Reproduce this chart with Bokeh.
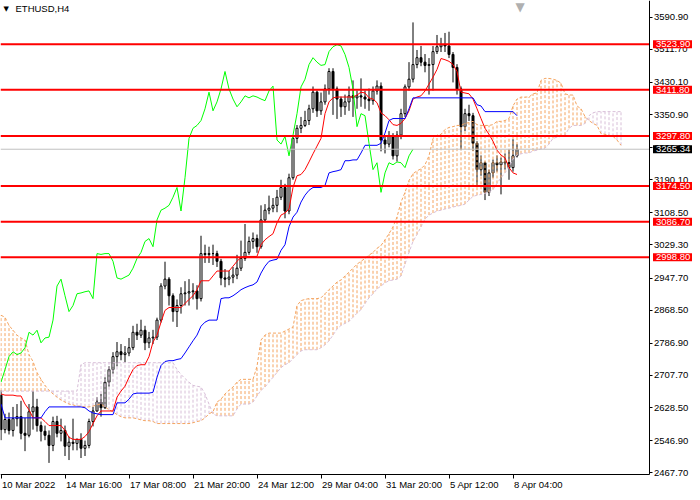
from bokeh.plotting import figure
from bokeh.models import Range1d, FixedTicker, PrintfTickFormatter, Label
from bokeh.embed import file_html
from bokeh.resources import INLINE

# ---------------- data (ETHUSD, H4) ----------------
open_ = [2659, 2574, 2599, 2572, 2601, 2606, 2565, 2560, 2618, 2630, 2584, 2570, 2560, 2535, 2594, 2565, 2572, 2533, 2543, 2540,
         2550, 2528, 2535, 2594, 2620, 2642, 2628, 2691, 2722, 2754, 2766, 2759, 2763, 2776, 2814, 2807, 2819, 2788, 2800, 2802,
         2844, 2928, 2945, 2904, 2865, 2880, 2909, 2911, 2914, 2916, 2897, 3008, 3006, 3008, 3008, 2989, 2948, 2945, 2950, 2955,
         2972, 2996, 3011, 3038, 3045, 3025, 3091, 3115, 3120, 3127, 3147, 3171, 3113, 3195, 3292, 3317, 3324, 3336, 3365, 3406,
         3360, 3382, 3414, 3457, 3414, 3389, 3370, 3382, 3397, 3392, 3397, 3394, 3389, 3385, 3409, 3421, 3288, 3278, 3297, 3249,
         3300, 3353, 3419, 3438, 3474, 3491, 3480, 3472, 3474, 3506, 3518, 3523, 3520, 3499, 3467, 3414, 3321, 3353, 3348, 3280,
         3215, 3232, 3159, 3207, 3232, 3227, 3234, 3232, 3220, 3249]
high = [2671, 2613, 2616, 2630, 2637, 2645, 2603, 2637, 2669, 2650, 2594, 2584, 2572, 2606, 2608, 2601, 2584, 2557, 2601, 2552,
        2565, 2547, 2601, 2630, 2654, 2662, 2703, 2730, 2765, 2790, 2785, 2780, 2800, 2830, 2835, 2845, 2830, 2815, 2820, 2850,
        2935, 2988, 2950, 2910, 2895, 2925, 2940, 2945, 2935, 2930, 3052, 3030, 3025, 3030, 3015, 2995, 2970, 2965, 2975, 3005,
        3040, 3081, 3050, 3060, 3055, 3127, 3130, 3151, 3145, 3165, 3190, 3180, 3205, 3300, 3325, 3345, 3360, 3375, 3420, 3410,
        3405, 3425, 3465, 3465, 3420, 3395, 3400, 3420, 3435, 3410, 3440, 3410, 3415, 3420, 3435, 3430, 3300, 3310, 3305, 3310,
        3365, 3425, 3480, 3578, 3510, 3520, 3500, 3490, 3520, 3547, 3540, 3552, 3555, 3505, 3475, 3420, 3365, 3375, 3355, 3285,
        3250, 3235, 3215, 3240, 3250, 3245, 3255, 3265, 3290, 3278]
low = [2548, 2565, 2562, 2557, 2582, 2550, 2521, 2555, 2574, 2569, 2545, 2548, 2492, 2521, 2555, 2545, 2509, 2499, 2523, 2523,
       2504, 2509, 2528, 2582, 2618, 2606, 2625, 2680, 2712, 2730, 2745, 2740, 2755, 2770, 2795, 2800, 2770, 2775, 2785, 2795,
       2838, 2920, 2880, 2840, 2827, 2860, 2880, 2880, 2895, 2870, 2890, 2985, 2985, 2980, 2975, 2930, 2925, 2930, 2935, 2945,
       2965, 2990, 3005, 3020, 3010, 3020, 3085, 3105, 3110, 3110, 3140, 3095, 3105, 3190, 3280, 3305, 3320, 3325, 3355, 3345,
       3350, 3375, 3400, 3350, 3340, 3345, 3350, 3360, 3345, 3365, 3370, 3365, 3360, 3375, 3400, 3260, 3255, 3270, 3240, 3235,
       3290, 3345, 3410, 3430, 3465, 3470, 3455, 3400, 3410, 3500, 3505, 3505, 3490, 3430, 3400, 3263, 3310, 3335, 3261, 3176,
       3200, 3140, 3150, 3195, 3210, 3154, 3215, 3190, 3210, 3245]
close = [2574, 2599, 2572, 2601, 2606, 2565, 2560, 2618, 2630, 2584, 2570, 2560, 2535, 2594, 2565, 2572, 2533, 2543, 2540, 2550,
         2528, 2535, 2594, 2620, 2642, 2628, 2691, 2722, 2754, 2766, 2759, 2763, 2776, 2814, 2807, 2819, 2788, 2800, 2802, 2844,
         2928, 2945, 2904, 2865, 2880, 2909, 2911, 2914, 2916, 2897, 3008, 3006, 3008, 3008, 2989, 2948, 2945, 2950, 2955, 2972,
         2996, 3011, 3038, 3045, 3025, 3091, 3115, 3120, 3127, 3147, 3171, 3113, 3195, 3292, 3317, 3324, 3336, 3365, 3406, 3360,
         3382, 3414, 3457, 3414, 3389, 3370, 3382, 3397, 3392, 3397, 3394, 3389, 3385, 3409, 3421, 3288, 3278, 3297, 3249, 3300,
         3353, 3419, 3438, 3474, 3491, 3480, 3472, 3474, 3506, 3518, 3523, 3520, 3499, 3467, 3414, 3321, 3353, 3348, 3280, 3215,
         3232, 3159, 3207, 3232, 3227, 3234, 3232, 3220, 3249, 3265.34]

tenkan = [2662, 2659, 2659, 2659, 2657, 2657, 2637, 2623, 2603, 2603,
          2603, 2594, 2584, 2584, 2584, 2584, 2572, 2555, 2550, 2550,
          2550, 2557, 2569, 2589, 2608, 2620, 2620, 2620, 2620, 2654,
          2669, 2681, 2703, 2722, 2732, 2734, 2734, 2754, 2790, 2807,
          2839, 2868, 2875, 2875, 2875, 2875, 2885, 2895, 2904, 2919,
          2941, 2941, 2941, 2953, 2965, 2965, 2965, 2965, 2977, 2989,
          2999, 3001, 3001, 3001, 3001, 3030, 3042, 3050, 3057, 3084,
          3103, 3108, 3118, 3171, 3200, 3203, 3215, 3234, 3254, 3273,
          3292, 3353, 3382, 3392, 3394, 3394, 3394, 3394, 3394, 3399,
          3406, 3404, 3392, 3389, 3380, 3355, 3348, 3338, 3326, 3324,
          3329, 3341, 3360, 3389, 3394, 3397, 3409, 3426, 3443, 3462,
          3489, 3486, 3482, 3474, 3457, 3406, 3404, 3402, 3389, 3365,
          3341, 3317, 3302, 3285, 3263, 3251, 3244, 3220, 3207, 3203]
kijun = [2637, 2603, 2603, 2603, 2603, 2603, 2603, 2603, 2603, 2603,
         2603, 2618, 2630, 2630, 2630, 2630, 2630, 2630, 2630, 2630,
         2630, 2628, 2620, 2615, 2613, 2611, 2611, 2611, 2611, 2640,
         2640, 2640, 2649, 2662, 2664, 2664, 2664, 2664, 2666, 2703,
         2732, 2742, 2744, 2744, 2747, 2749, 2763, 2778, 2793, 2807,
         2829, 2839, 2844, 2844, 2844, 2897, 2899, 2899, 2904, 2911,
         2919, 2924, 2928, 2931, 2938, 2960, 2977, 2989, 2992, 2994,
         3016, 3030, 3074, 3098, 3110, 3135, 3152, 3164, 3171, 3171,
         3171, 3176, 3207, 3210, 3212, 3215, 3237, 3237, 3239, 3239,
         3256, 3275, 3275, 3275, 3275, 3280, 3305, 3336, 3341, 3341,
         3341, 3341, 3365, 3392, 3392, 3392, 3392, 3392, 3392, 3392,
         3392, 3392, 3392, 3392, 3392, 3392, 3392, 3392, 3392, 3375,
         3372, 3358, 3358, 3358, 3358, 3358, 3358, 3358, 3358, 3348]
span_a = [2856, 2851, 2831, 2819, 2807, 2800, 2795, 2759, 2742, 2715,
          2698, 2683, 2671, 2662, 2654, 2647, 2642, 2637, 2635, 2632,
          2632, 2630, 2630, 2632, 2635, 2637, 2630, 2623, 2618, 2611,
          2606, 2603, 2603, 2603, 2601, 2598, 2596, 2596, 2594, 2589,
          2589, 2589, 2589, 2589, 2589, 2589, 2589, 2589, 2591, 2594,
          2596, 2603, 2613, 2618, 2642, 2649, 2662, 2671, 2679, 2691,
          2698, 2698, 2698, 2698, 2730, 2795, 2807, 2812, 2812, 2812,
          2812, 2817, 2822, 2827, 2880, 2892, 2895, 2897, 2897, 2897,
          2899, 2909, 2919, 2928, 2938, 2943, 2953, 2962, 2972, 2982,
          2989, 2996, 3004, 3011, 3021, 3028, 3042, 3057, 3074, 3098,
          3135, 3159, 3188, 3205, 3212, 3217, 3227, 3249, 3292, 3300,
          3302, 3314, 3319, 3321, 3324, 3324, 3329, 3331, 3334, 3326,
          3324, 3324, 3324, 3326, 3334, 3334, 3336, 3341, 3372, 3389,
          3394, 3394, 3394, 3402, 3404, 3435, 3440, 3440, 3438, 3435,
          3428, 3402, 3399, 3399, 3372, 3365, 3346, 3336, 3329, 3324,
          3304, 3302, 3300, 3297, 3288, 3275]
span_b = [2669, 2669, 2669, 2669, 2669, 2669, 2669, 2669, 2669, 2669,
          2669, 2669, 2669, 2669, 2669, 2669, 2669, 2669, 2669, 2669,
          2734, 2739, 2739, 2739, 2739, 2739, 2739, 2739, 2739, 2739,
          2739, 2739, 2739, 2739, 2739, 2739, 2739, 2739, 2739, 2739,
          2739, 2739, 2739, 2739, 2722, 2710, 2700, 2691, 2683, 2681,
          2679, 2662, 2637, 2613, 2608, 2608, 2608, 2608, 2608, 2625,
          2637, 2637, 2637, 2642, 2657, 2671, 2679, 2691, 2703, 2715,
          2727, 2734, 2739, 2749, 2759, 2768, 2771, 2771, 2771, 2771,
          2776, 2783, 2793, 2807, 2822, 2831, 2836, 2841, 2851, 2861,
          2870, 2885, 2899, 2909, 2921, 2928, 2936, 2941, 2943, 2945,
          2953, 2982, 3011, 3038, 3055, 3074, 3093, 3103, 3108, 3113,
          3115, 3118, 3120, 3123, 3125, 3127, 3130, 3140, 3149, 3152,
          3154, 3157, 3159, 3166, 3181, 3195, 3207, 3222, 3241, 3251,
          3254, 3256, 3256, 3261, 3263, 3266, 3268, 3278, 3292, 3295,
          3297, 3300, 3317, 3324, 3324, 3324, 3329, 3348, 3355, 3358,
          3358, 3358, 3358, 3358, 3358, 3358]

levels = [3523.90, 3411.80, 3297.80, 3174.50, 3086.70, 2998.80]
bid = 3265.34
y_ticks = [3590.90, 3511.70, 3430.10, 3350.90, 3269.30, 3190.10, 3108.50, 3029.30,
           2947.70, 2868.50, 2786.90, 2707.70, 2628.50, 2546.90, 2467.70]
x_tick_bars = [0, 16, 32, 48, 64, 80, 96, 112, 128]
x_tick_labels = ["10 Mar 2022", "14 Mar 16:00", "17 Mar 08:00", "21 Mar 20:00", "24 Mar 12:00",
                 "29 Mar 04:00", "31 Mar 20:00", "5 Apr 12:00", "8 Apr 04:00"]
symbol = "ETHUSD,H4"
chikou_shift = 26

# ---------------- layout constants ----------------
FONT = "Liberation Sans"
FS = "9.5px"
X0, X1 = -0.125, 172.875        # whole canvas width in bar units (4 px per bar, bars on pixel centres)
Y0, Y1 = 2419.0, 3632.0         # whole canvas height in price units
AXIS_X = 162.0                  # where the price scale sits
AXIS_Y = 2464.0                 # where the time scale sits

p = figure(width=692, height=492, x_range=Range1d(X0, X1), y_range=Range1d(Y0, Y1),
           output_backend="svg", toolbar_location=None, y_axis_location="right")
p.min_border = 0
p.grid.visible = False
p.outline_line_color = None
p.background_fill_color = "white"
p.border_fill_color = "white"

ya = p.yaxis[0]
ya.fixed_location = AXIS_X
ya.bounds = (AXIS_Y, Y1)
ya.ticker = FixedTicker(ticks=y_ticks)
ya.formatter = PrintfTickFormatter(format="%.2f")
ya.major_tick_out = 3
ya.major_tick_in = 0
ya.minor_tick_out = 0
ya.minor_tick_in = 0
ya.major_label_standoff = 2
ya.major_label_text_font = FONT
ya.major_label_text_font_size = FS
ya.major_label_text_color = "black"
ya.axis_line_color = "black"

xa = p.xaxis[0]
xa.fixed_location = AXIS_Y
xa.bounds = (X0, AXIS_X)
xa.ticker = FixedTicker(ticks=x_tick_bars)
xa.major_tick_out = 4
xa.major_tick_in = 0
xa.minor_tick_out = 0
xa.minor_tick_in = 0
xa.major_label_text_color = None
xa.axis_line_color = "black"

# candles
idx = list(range(len(close)))
body_top = [max(o, c) for o, c in zip(open_, close)]
body_bot = [min(o, c) for o, c in zip(open_, close)]
body_fill = ["white" if c >= o else "black" for o, c in zip(open_, close)]
p.segment(x0=idx, y0=low, x1=idx, y1=high, line_color="black", line_width=1)
p.vbar(x=idx, width=0.5, top=body_top, bottom=body_bot, fill_color=body_fill,
       line_color="black", line_width=1)

# Ichimoku cloud (dotted hatch), bullish part sandy brown, bearish part thistle
up_x = [i for i, (a, b) in enumerate(zip(span_a, span_b)) if a >= b]
dn_x = [i for i, (a, b) in enumerate(zip(span_a, span_b)) if a < b]
p.segment(x0=up_x, y0=[span_b[i] for i in up_x], x1=up_x, y1=[span_a[i] for i in up_x],
          line_color="#F4A460", line_width=1, line_dash="3 2")
p.segment(x0=dn_x, y0=[span_a[i] for i in dn_x], x1=dn_x, y1=[span_b[i] for i in dn_x],
          line_color="#D8BFD8", line_width=1, line_dash="3 2")
cx = list(range(len(span_a)))
p.line(cx, span_a, line_color="#F4A460", line_width=1, line_dash="3 2")
p.line(cx, span_b, line_color="#D8BFD8", line_width=1, line_dash="3 2")

# Tenkan / Kijun / Chikou
p.line(idx, tenkan, line_color="#FF0000", line_width=1)
p.line(idx, kijun, line_color="#0000FF", line_width=1)
p.line([i - chikou_shift for i in idx[chikou_shift:]], close[chikou_shift:], line_color="#00FF00", line_width=1)

# horizontal levels (stop at the price scale)
p.segment(x0=[X0], y0=[bid], x1=[AXIS_X], y1=[bid], line_color="#C0C0C0", line_width=1)
p.segment(x0=[X0] * len(levels), y0=levels, x1=[AXIS_X] * len(levels), y1=levels,
          line_color="#FF0000", line_width=2)

# price boxes on the scale
for lv in levels:
    p.add_layout(Label(x=AXIS_X, y=lv, x_offset=4, text=f"{lv:.2f}", text_align="left",
                       text_baseline="middle", text_color="white", text_font=FONT,
                       text_font_size=FS, background_fill_color="#FF0000", padding=(3, 1)))
p.add_layout(Label(x=AXIS_X, y=bid, x_offset=4, text=f"{bid:.2f}", text_align="left",
                   text_baseline="middle", text_color="white", text_font=FONT,
                   text_font_size=FS, background_fill_color="black", padding=(3, 1)))

# time labels (left aligned at their ticks)
for b, t in zip(x_tick_bars, x_tick_labels):
    p.add_layout(Label(x=b, y=AXIS_Y, x_offset=1, y_offset=-5, text=t, text_align="left",
                       text_baseline="top", text_color="black", text_font=FONT, text_font_size=FS))

# symbol caption
p.add_layout(Label(x=X0, y=Y1, x_offset=3, y_offset=-4, text="\u25BC", text_align="left",
                   text_baseline="top", text_color="black", text_font="DejaVu Sans", text_font_size="7px"))
p.add_layout(Label(x=X0, y=Y1, x_offset=15, y_offset=-2, text=symbol, text_align="left",
                   text_baseline="top", text_color="black", text_font=FONT, text_font_size=FS))
# chart shift marker
p.add_layout(Label(x=len(close) - 0.25, y=Y1, y_offset=1, text="\u25BC", text_align="center",
                   text_baseline="top", text_color="#B0B0B0", text_font="DejaVu Sans",
                   text_font_size="12px"))

open("out.html", "w").write(file_html(p, INLINE))
